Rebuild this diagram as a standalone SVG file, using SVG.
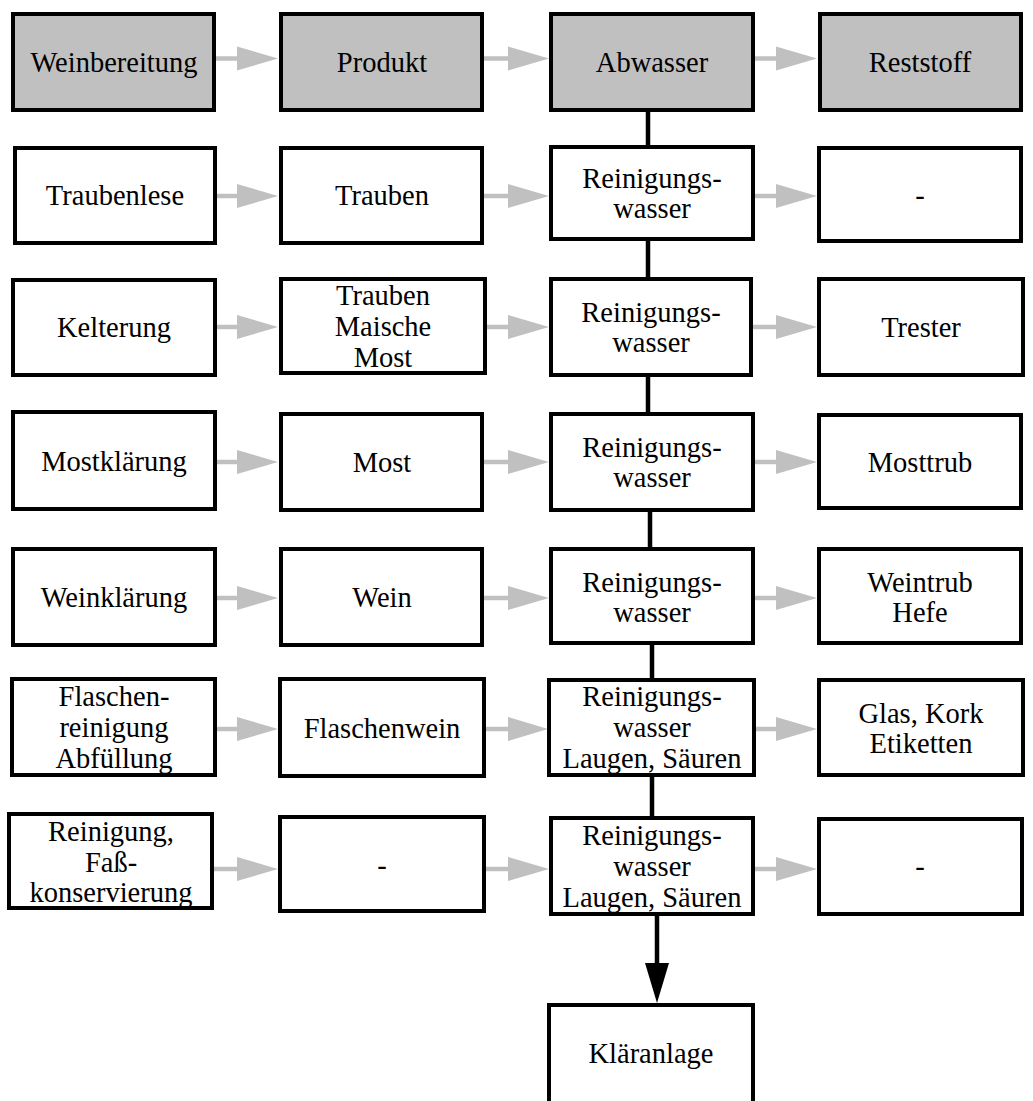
<svg xmlns="http://www.w3.org/2000/svg" width="1033" height="1101" viewBox="0 0 1033 1101">
<style>
.box{fill:#ffffff;stroke:#000000;stroke-width:4;stroke-linejoin:miter}
.hdr{fill:#c0c0c0;stroke:#000000;stroke-width:4}
.t{font-size:28.5px;fill:#000000;text-anchor:middle}
.gl{stroke:#c0c0c0;stroke-width:4.5;fill:none}
.gh{fill:#c0c0c0;stroke:none}
.bl{stroke:#000000;stroke-width:4.5;fill:none}
.bh{fill:#000000;stroke:none}
</style>
<rect width="1033" height="1101" fill="#ffffff"/>
<g id="connectors">
  <line class="gl" x1="216" y1="58.5" x2="240" y2="58.5"/><polygon class="gh" points="237,46.5 278,58.5 237,70.5"/>
  <line class="gl" x1="484" y1="58.5" x2="511" y2="58.5"/><polygon class="gh" points="508,46.5 549,58.5 508,70.5"/>
  <line class="gl" x1="755" y1="58.5" x2="779" y2="58.5"/><polygon class="gh" points="776,46.5 817,58.5 776,70.5"/>
  <line class="gl" x1="216" y1="196" x2="240" y2="196"/><polygon class="gh" points="237,184 278,196 237,208"/>
  <line class="gl" x1="484" y1="196" x2="511" y2="196"/><polygon class="gh" points="508,184 549,196 508,208"/>
  <line class="gl" x1="755" y1="196" x2="779" y2="196"/><polygon class="gh" points="776,184 817,196 776,208"/>
  <line class="gl" x1="216" y1="327" x2="240" y2="327"/><polygon class="gh" points="237,315 278,327 237,339"/>
  <line class="gl" x1="486" y1="327" x2="511" y2="327"/><polygon class="gh" points="508,315 549,327 508,339"/>
  <line class="gl" x1="753" y1="327" x2="779" y2="327"/><polygon class="gh" points="776,315 817,327 776,339"/>
  <line class="gl" x1="216" y1="462" x2="240" y2="462"/><polygon class="gh" points="237,450 278,462 237,474"/>
  <line class="gl" x1="484" y1="462" x2="511" y2="462"/><polygon class="gh" points="508,450 549,462 508,474"/>
  <line class="gl" x1="755" y1="462" x2="779" y2="462"/><polygon class="gh" points="776,450 817,462 776,474"/>
  <line class="gl" x1="216" y1="598" x2="240" y2="598"/><polygon class="gh" points="237,586 278,598 237,610"/>
  <line class="gl" x1="484" y1="598" x2="511" y2="598"/><polygon class="gh" points="508,586 549,598 508,610"/>
  <line class="gl" x1="755" y1="598" x2="779" y2="598"/><polygon class="gh" points="776,586 817,598 776,610"/>
  <line class="gl" x1="216" y1="729" x2="240" y2="729"/><polygon class="gh" points="237,717 278,729 237,741"/>
  <line class="gl" x1="485" y1="729" x2="511" y2="729"/><polygon class="gh" points="508,717 548,729 508,741"/>
  <line class="gl" x1="755" y1="729" x2="779" y2="729"/><polygon class="gh" points="776,717 817,729 776,741"/>
  <line class="gl" x1="213" y1="869" x2="240" y2="869"/><polygon class="gh" points="237,857 278,869 237,881"/>
  <line class="gl" x1="485" y1="869" x2="511" y2="869"/><polygon class="gh" points="508,857 549,869 508,881"/>
  <line class="gl" x1="755" y1="869" x2="779" y2="869"/><polygon class="gh" points="776,857 817,869 776,881"/>
  <line class="bl" x1="648" y1="110" x2="648" y2="149"/>
  <line class="bl" x1="648" y1="239" x2="648" y2="281"/>
  <line class="bl" x1="648" y1="375" x2="648" y2="416"/>
  <line class="bl" x1="650" y1="510" x2="650" y2="551"/>
  <line class="bl" x1="652" y1="643" x2="652" y2="682"/>
  <line class="bl" x1="652" y1="775" x2="652" y2="820"/>
  <line class="bl" x1="657" y1="914" x2="657" y2="966"/>
  <polygon class="bh" points="645,963 669,963 657,1003"/>
</g>
<g id="nodes" font-family="Liberation Serif, Times New Roman, serif">
<g id="n-weinbereitung"><rect class="hdr" x="13" y="14" width="201" height="96"/><text class="t" x="114" y="72">Weinbereitung</text></g>
<g id="n-produkt"><rect class="hdr" x="281" y="14" width="201" height="96"/><text class="t" x="382" y="72">Produkt</text></g>
<g id="n-abwasser"><rect class="hdr" x="551" y="14" width="202" height="96"/><text class="t" x="652" y="72">Abwasser</text></g>
<g id="n-reststoff"><rect class="hdr" x="820" y="14" width="201" height="96"/><text class="t" x="920" y="72">Reststoff</text></g>

<g id="n-traubenlese"><rect class="box" x="15" y="148" width="200" height="95"/><text class="t" x="115" y="205">Traubenlese</text></g>
<g id="n-trauben"><rect class="box" x="281" y="148" width="201" height="95"/><text class="t" x="382" y="205">Trauben</text></g>
<g id="n-rw1"><rect class="box" x="551" y="147" width="202" height="92"/><text class="t" y="188"><tspan x="652">Reinigungs-</tspan><tspan x="652" dy="30">wasser</tspan></text></g>
<g id="n-rest1"><rect class="box" x="819" y="148" width="202" height="93"/><text class="t" x="920" y="205">-</text></g>

<g id="n-kelterung"><rect class="box" x="13" y="280" width="202" height="95"/><text class="t" x="114" y="337">Kelterung</text></g>
<g id="n-maische"><rect class="box" x="281" y="279" width="204" height="94"/><text class="t" y="305"><tspan x="383">Trauben</tspan><tspan x="383" dy="31">Maische</tspan><tspan x="383" dy="30.5">Most</tspan></text></g>
<g id="n-rw2"><rect class="box" x="551" y="279" width="200" height="96"/><text class="t" y="322"><tspan x="651">Reinigungs-</tspan><tspan x="651" dy="30">wasser</tspan></text></g>
<g id="n-trester"><rect class="box" x="819" y="279" width="204" height="96"/><text class="t" x="921" y="337">Trester</text></g>

<g id="n-mostklaerung"><rect class="box" x="13" y="412" width="202" height="97"/><text class="t" x="114" y="471">Mostklärung</text></g>
<g id="n-most"><rect class="box" x="281" y="414" width="201" height="96"/><text class="t" x="382" y="472">Most</text></g>
<g id="n-rw3"><rect class="box" x="551" y="414" width="202" height="96"/><text class="t" y="457"><tspan x="652">Reinigungs-</tspan><tspan x="652" dy="30">wasser</tspan></text></g>
<g id="n-mosttrub"><rect class="box" x="819" y="415" width="202" height="93"/><text class="t" x="920" y="472">Mosttrub</text></g>

<g id="n-weinklaerung"><rect class="box" x="13" y="549" width="202" height="96"/><text class="t" x="114" y="607">Weinklärung</text></g>
<g id="n-wein"><rect class="box" x="281" y="549" width="201" height="96"/><text class="t" x="382" y="607">Wein</text></g>
<g id="n-rw4"><rect class="box" x="551" y="549" width="202" height="94"/><text class="t" y="592"><tspan x="652">Reinigungs-</tspan><tspan x="652" dy="30">wasser</tspan></text></g>
<g id="n-weintrub"><rect class="box" x="819" y="549" width="202" height="94"/><text class="t" y="592"><tspan x="920">Weintrub</tspan><tspan x="920" dy="30">Hefe</tspan></text></g>

<g id="n-flaschenreinigung"><rect class="box" x="12" y="679" width="203" height="96"/><text class="t" y="706"><tspan x="114">Flaschen-</tspan><tspan x="114" dy="31">reinigung</tspan><tspan x="114" dy="31">Abfüllung</tspan></text></g>
<g id="n-flaschenwein"><rect class="box" x="280" y="679" width="204" height="97"/><text class="t" x="382" y="738">Flaschenwein</text></g>
<g id="n-rw5"><rect class="box" x="549" y="680" width="205" height="95"/><text class="t" y="706"><tspan x="652">Reinigungs-</tspan><tspan x="652" dy="31">wasser</tspan><tspan x="652" dy="31">Laugen, Säuren</tspan></text></g>
<g id="n-glas"><rect class="box" x="819" y="680" width="204" height="95"/><text class="t" y="723"><tspan x="921">Glas, Kork</tspan><tspan x="921" dy="30">Etiketten</tspan></text></g>

<g id="n-fass"><rect class="box" x="9" y="814" width="203" height="94"/><text class="t" y="841"><tspan x="111">Reinigung,</tspan><tspan x="111" dy="30.5">Faß-</tspan><tspan x="111" dy="30.5">konservierung</tspan></text></g>
<g id="n-prod7"><rect class="box" x="280" y="817" width="204" height="94"/><text class="t" x="382" y="875">-</text></g>
<g id="n-rw6"><rect class="box" x="551" y="818" width="202" height="96"/><text class="t" y="845"><tspan x="652">Reinigungs-</tspan><tspan x="652" dy="31">wasser</tspan><tspan x="652" dy="31">Laugen, Säuren</tspan></text></g>
<g id="n-rest7"><rect class="box" x="819" y="819" width="203" height="95"/><text class="t" x="920" y="876">-</text></g>

<g id="n-klaeranlage"><rect class="box" x="549" y="1005" width="204" height="100"/><text class="t" x="651" y="1063">Kläranlage</text></g>
</g>
</svg>
